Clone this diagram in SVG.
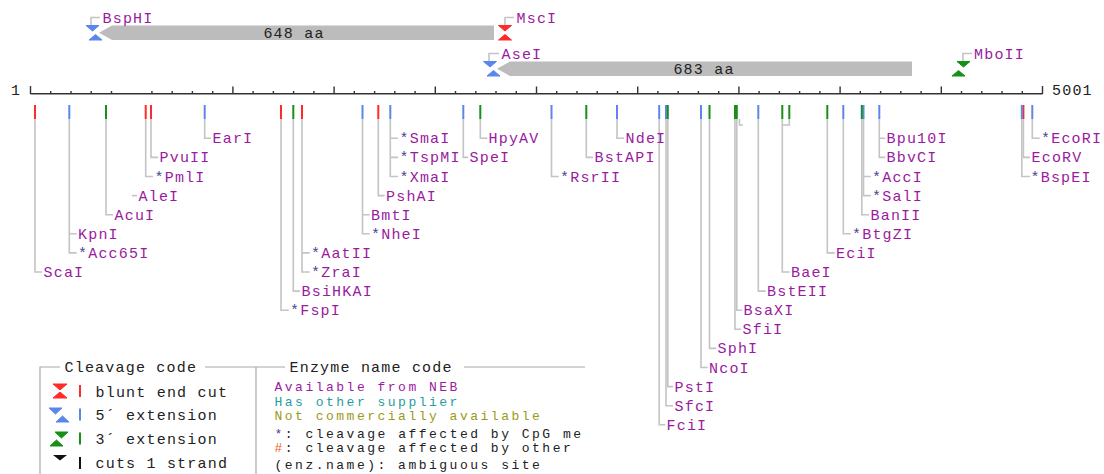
<svg xmlns="http://www.w3.org/2000/svg" width="1104" height="474" viewBox="0 0 1104 474">
  <style>
    text { font-family: "Liberation Mono", "DejaVu Sans Mono", monospace; font-size: 15px; letter-spacing: 1.2px; }
    .small { font-size: 13px; letter-spacing: 2.5px; }
    .enz { fill: #9a1aa0; }
    .star { fill: #4a3f8f; }
    .dark { fill: #222; }
    .lead { fill: none; stroke: #c4c4c4; stroke-width: 1.6; }
    .rule { fill: none; stroke: #333; stroke-width: 1.4; }
    .cut { stroke-width: 2; }
    .red { stroke: #ff2a2a; fill: #ff2a2a; }
    .blue { stroke: #5b86ee; fill: #5b86ee; }
    .green { stroke: #169016; fill: #169016; }
    .orf { fill: #bcbcbc; }
    .frame { fill: none; stroke: #a8a8a8; stroke-width: 1.2; }
  </style>

  <!-- open reading frames with flanking sites -->
  <g id="orf-648">
    <polygon class="orf" points="99,32.8 112,25.5 494,25.5 494,40 112,40"/>
    <text class="dark" x="294" y="38" text-anchor="middle">648 aa</text>
  </g>
  <g id="orf-683">
    <polygon class="orf" points="497,68.8 510,61.5 912,61.5 912,76 510,76"/>
    <text class="dark" x="704" y="74" text-anchor="middle">683 aa</text>
  </g>
  <g id="site-BspHI">
    <polygon class="blue" points="86,25.5 99,25.5 92.5,31"/>
    <polygon class="blue" points="89,40 102,40 95.5,34.5"/>
    <path class="lead" d="M91,25V17.5H100"/>
    <text class="enz" x="102.5" y="22.5">BspHI</text>
  </g>
  <g id="site-MscI">
    <polygon class="red" points="498.5,25.5 511.5,25.5 505,31"/>
    <polygon class="red" points="498.5,40 511.5,40 505,34.5"/>
    <path class="lead" d="M505,25V17.5H514"/>
    <text class="enz" x="516.5" y="22.5">MscI</text>
  </g>
  <g id="site-AseI">
    <polygon class="blue" points="483.5,61.5 496.5,61.5 490,67"/>
    <polygon class="blue" points="487,76 500,76 493.5,70.5"/>
    <path class="lead" d="M489,61V53.5H499"/>
    <text class="enz" x="501.5" y="58.5">AseI</text>
  </g>
  <g id="site-MboII">
    <polygon class="green" points="957,61.5 970,61.5 963.5,67"/>
    <polygon class="green" points="952,76 965,76 958.5,70.5"/>
    <path class="lead" d="M963,61V53.5H972"/>
    <text class="enz" x="974" y="58.5">MboII</text>
  </g>

  <!-- sequence ruler -->
  <g id="ruler">
    <text class="dark" x="11" y="95">1</text>
    <path class="rule" d="M30.5,93.8H1042.5"/>
    <path class="rule" d="M30.5,86V94M1042.5,86V94
      M232.9,86.5V94M334.1,86.5V94M435.3,86.5V94M536.5,86.5V94M637.7,86.5V94M738.9,86.5V94M840.1,86.5V94M941.3,86.5V94"/>
    <path class="rule" d="M50.7,91V94M71,91V94M91.2,91V94M111.5,91V94M151.9,91V94M172.2,91V94M192.4,91V94M212.7,91V94
      M253.1,91V94M273.4,91V94M293.6,91V94M313.9,91V94M354.3,91V94M374.6,91V94M394.8,91V94M415.1,91V94
      M455.5,91V94M475.8,91V94M496,91V94M516.3,91V94M556.7,91V94M577,91V94M597.2,91V94M617.5,91V94
      M657.9,91V94M678.2,91V94M698.4,91V94M718.7,91V94M759.1,91V94M779.4,91V94M799.6,91V94M819.9,91V94
      M860.3,91V94M880.6,91V94M900.8,91V94M921.1,91V94M961.5,91V94M981.8,91V94M1002,91V94M1022.3,91V94"/>
    <text class="dark" x="1052" y="95">5001</text>
  </g>

  <!-- cut marks along the ruler -->
  <g id="cut-marks" class="cut">
    <path class="red" d="M35,105V119M145.7,105V119M151,105V119M281,105V119M302,105V119M378.3,105V119M1023.4,105V119"/>
    <path class="blue" d="M69.3,105V119M204.7,105V119M362.5,105V119M390.3,105V119M463.3,105V119M551.5,105V119M617,105V119M659.2,105V119M666,105V119M701,105V119M758.3,105V119M843.3,105V119M863.5,105V119M879.3,105V119M1021.8,105V119M1032.3,105V119"/>
    <path class="green" d="M106,105V119M293.3,105V119M480.3,105V119M586.3,105V119M667.8,105V119M709.5,105V119M735,105V119M736.8,105V119M782.3,105V119M789.3,105V119M827.3,105V119M861.8,105V119"/>
  </g>

  <!-- leader lines from cut sites to enzyme names -->
  <g id="connectors" class="lead">
    <path d="M35,119V272H42"/>
    <path d="M69.3,119V252.9H76.7M69.3,233.8H76.7"/>
    <path d="M106,119V214.7H113"/>
    <path d="M132,195.6H137"/>
    <path d="M145.7,119V176.5H153"/>
    <path d="M151,119V157.4H158"/>
    <path d="M204.7,119V138.3H211"/>
    <path d="M281,119V310.2H288.7"/>
    <path d="M293.3,119V291.1H300"/>
    <path d="M302,119V272H309.7M302,252.9H309.7"/>
    <path d="M362.5,119V233.8H369.7M362.5,214.7H369.7"/>
    <path d="M378.3,119V195.6H384.7"/>
    <path d="M390.3,119V176.5H398M390.3,138.3H398M390.3,157.4H398"/>
    <path d="M463.3,119V157.4H468"/>
    <path d="M480.3,119V138.3H487.3"/>
    <path d="M551.5,119V176.5H558.7"/>
    <path d="M586.3,119V157.4H593"/>
    <path d="M617,119V138.3H624"/>
    <path d="M659.2,119V424.8H665.3"/>
    <path d="M666,119V405.7H673"/>
    <path d="M667.8,119V386.6H673"/>
    <path d="M701,119V367.5H707.7"/>
    <path d="M709.5,119V348.4H716.3"/>
    <path d="M735,119V329.3H741"/>
    <path d="M736.8,119V310.2H742.3M739.5,119V125H743"/>
    <path d="M758.3,119V291.1H765.7"/>
    <path d="M782.3,119V272H789.7M789.3,119V125H782.3"/>
    <path d="M827.3,119V252.9H834.7"/>
    <path d="M843.3,119V233.8H850.7"/>
    <path d="M861.8,119V214.7H869"/>
    <path d="M863.5,119V195.6H870.7M863.5,176.5H870.7"/>
    <path d="M879.3,119V157.4H885.3M879.3,138.3H885.3"/>
    <path d="M1021.8,119V176.5H1030"/>
    <path d="M1023.4,119V157.4H1030"/>
    <path d="M1032.3,119V138.3H1039.7"/>
  </g>

  <!-- enzyme names -->
  <g id="enz-ScaI"><text class="enz" x="43.5" y="277">ScaI</text></g>
  <g id="enz-KpnI"><text class="enz" x="78" y="238.8">KpnI</text></g>
  <g id="enz-Acc65I"><text class="enz" x="78" y="257.9"><tspan class="star">*</tspan>Acc65I</text></g>
  <g id="enz-AcuI"><text class="enz" x="114.5" y="219.7">AcuI</text></g>
  <g id="enz-AleI"><text class="enz" x="138.5" y="200.6">AleI</text></g>
  <g id="enz-PmlI"><text class="enz" x="154.5" y="181.5"><tspan class="star">*</tspan>PmlI</text></g>
  <g id="enz-PvuII"><text class="enz" x="159.5" y="162.4">PvuII</text></g>
  <g id="enz-EarI"><text class="enz" x="212.5" y="143.3">EarI</text></g>
  <g id="enz-FspI"><text class="enz" x="290" y="315.2"><tspan class="star">*</tspan>FspI</text></g>
  <g id="enz-BsiHKAI"><text class="enz" x="301.5" y="296.1">BsiHKAI</text></g>
  <g id="enz-AatII"><text class="enz" x="311" y="257.9"><tspan class="star">*</tspan>AatII</text></g>
  <g id="enz-ZraI"><text class="enz" x="311" y="277"><tspan class="star">*</tspan>ZraI</text></g>
  <g id="enz-BmtI"><text class="enz" x="371" y="219.7">BmtI</text></g>
  <g id="enz-NheI"><text class="enz" x="371" y="238.8"><tspan class="star">*</tspan>NheI</text></g>
  <g id="enz-PshAI"><text class="enz" x="386" y="200.6">PshAI</text></g>
  <g id="enz-SmaI"><text class="enz" x="399.5" y="143.3"><tspan class="star">*</tspan>SmaI</text></g>
  <g id="enz-TspMI"><text class="enz" x="399.5" y="162.4"><tspan class="star">*</tspan>TspMI</text></g>
  <g id="enz-XmaI"><text class="enz" x="399.5" y="181.5"><tspan class="star">*</tspan>XmaI</text></g>
  <g id="enz-SpeI"><text class="enz" x="469.5" y="162.4">SpeI</text></g>
  <g id="enz-HpyAV"><text class="enz" x="488.5" y="143.3">HpyAV</text></g>
  <g id="enz-RsrII"><text class="enz" x="560" y="181.5"><tspan class="star">*</tspan>RsrII</text></g>
  <g id="enz-BstAPI"><text class="enz" x="594.5" y="162.4">BstAPI</text></g>
  <g id="enz-NdeI"><text class="enz" x="625.5" y="143.3">NdeI</text></g>
  <g id="enz-FciI"><text class="enz" x="666.5" y="429.8">FciI</text></g>
  <g id="enz-PstI"><text class="enz" x="674.5" y="391.6">PstI</text></g>
  <g id="enz-SfcI"><text class="enz" x="674.5" y="410.7">SfcI</text></g>
  <g id="enz-NcoI"><text class="enz" x="709" y="372.5">NcoI</text></g>
  <g id="enz-SphI"><text class="enz" x="717.5" y="353.4">SphI</text></g>
  <g id="enz-SfiI"><text class="enz" x="742.5" y="334.3">SfiI</text></g>
  <g id="enz-BsaXI"><text class="enz" x="743.5" y="315.2">BsaXI</text></g>
  <g id="enz-BstEII"><text class="enz" x="767" y="296.1">BstEII</text></g>
  <g id="enz-BaeI"><text class="enz" x="791" y="277">BaeI</text></g>
  <g id="enz-EciI"><text class="enz" x="836" y="257.9">EciI</text></g>
  <g id="enz-BtgZI"><text class="enz" x="852" y="238.8"><tspan class="star">*</tspan>BtgZI</text></g>
  <g id="enz-BanII"><text class="enz" x="870.5" y="219.7">BanII</text></g>
  <g id="enz-SalI"><text class="enz" x="872" y="200.6"><tspan class="star">*</tspan>SalI</text></g>
  <g id="enz-AccI"><text class="enz" x="872" y="181.5"><tspan class="star">*</tspan>AccI</text></g>
  <g id="enz-BbvCI"><text class="enz" x="886.5" y="162.4">BbvCI</text></g>
  <g id="enz-Bpu10I"><text class="enz" x="886.5" y="143.3">Bpu10I</text></g>
  <g id="enz-EcoRI"><text class="enz" x="1041" y="143.3"><tspan class="star">*</tspan>EcoRI</text></g>
  <g id="enz-EcoRV"><text class="enz" x="1031.5" y="162.4">EcoRV</text></g>
  <g id="enz-BspEI"><text class="enz" x="1030.5" y="181.5"><tspan class="star">*</tspan>BspEI</text></g>

  <!-- legend: cleavage code -->
  <g id="legend-cleavage">
    <path class="frame" d="M40,474V367H60M205,367H256M256,474V367"/>
    <text class="dark" x="64.5" y="372">Cleavage code</text>
    <polygon class="red" points="53,384 67,384 60,390"/>
    <polygon class="red" points="53,398 67,398 60,392"/>
    <path class="red cut" d="M80,385V397"/>
    <text class="dark" x="95.5" y="396.5">blunt end cut</text>
    <polygon class="blue" points="49,408 62,408 55.5,414"/>
    <polygon class="blue" points="56,422 69,422 62.5,416"/>
    <path class="blue cut" d="M80,408.5V420.5"/>
    <text class="dark" x="95.5" y="420">5´ extension</text>
    <polygon class="green" points="55,432 68,432 61.5,438"/>
    <polygon class="green" points="50,446 63,446 56.5,440"/>
    <path class="green cut" d="M80,432.5V444.5"/>
    <text class="dark" x="95.5" y="443.5">3´ extension</text>
    <polygon fill="#111" points="53,455 67,455 60,460.5"/>
    <path stroke="#111" stroke-width="2" d="M80,457V469"/>
    <text class="dark" x="95.5" y="468">cuts 1 strand</text>
  </g>

  <!-- legend: enzyme name code -->
  <g id="legend-names">
    <path class="frame" d="M256,367H285M464,367H585"/>
    <text class="dark" x="289.5" y="372">Enzyme name code</text>
    <text class="small" x="274.5" y="390.5" fill="#9a1aa0">Available from NEB</text>
    <text class="small" x="274.5" y="405.5" fill="#1f9e9e">Has other supplier</text>
    <text class="small" x="274.5" y="420" fill="#9a9a18">Not commercially available</text>
    <text class="small dark" x="274.5" y="437.5"><tspan class="star">*</tspan>: cleavage affected by CpG me</text>
    <text class="small dark" x="274.5" y="451.5"><tspan fill="#f0602a">#</tspan>: cleavage affected by other</text>
    <text class="small dark" x="274.5" y="468.5">(enz.name): ambiguous site</text>
  </g>
</svg>
